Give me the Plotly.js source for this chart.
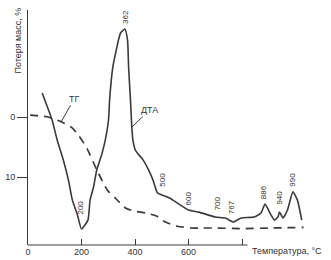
<!DOCTYPE html>
<html>
<head>
<meta charset="utf-8">
<script src="https://cdn.plot.ly/plotly-3.0.1.min.js"></script>
<style>html,body{margin:0;padding:0;background:#fff;}#chart{width:331px;height:260px;}</style>
</head>
<body>
<div id="chart"></div>
<script>
// DTA curve (temperature, °C ; relative signal, arbitrary units)
const tempDTA = [53,90,109,132,151,166,185,200,224,232,245,257,277,289,301,305,317,330,338,346,362,372,376,383,388,392,401,430,451,467,484,500,529,600,639,700,738,767,797,845,871,886,908,921,934,940,953,970,990,1007,1023];
const dta = [64.7,53.2,44.7,36.2,27.7,19.1,12.8,6.8,10.6,19.1,24.7,31.9,39.1,44.7,53.2,61.7,75.7,83.0,87.2,90.2,91.9,87.2,75.7,61.7,50.2,44.7,40.4,36.2,31.9,27.7,22.1,21.3,20.0,14.9,14.0,11.9,11.5,9.8,11.5,11.9,13.6,17.4,12.8,10.6,11.9,14.0,11.5,14.9,22.6,19.1,10.6];

// TG curve (temperature, °C ; mass loss, %)
const tempTG = [8,38,75,124,162,188,220,257,297,326,366,398,441,480,513,558,611,639,700,800,900,1030];
const tg = [-0.3,-0.2,0,0.8,1.7,3.0,5.2,8.8,12.2,13.5,15.2,15.7,16.0,16.5,17.5,18.2,18.5,18.5,18.5,18.6,18.5,18.4];

// labelled DTA effects (°C)
const peakTemps = [200,362,500,600,700,767,886,940,990];
const peakShiftY = [21,12,15,11,14,15,12,14,12];
const peakShiftX = [-1,0,1,0,2,-1,-2,0,0];

// axis ticks
const xTickVals = [0,200,400,600,800];
const xTickText = ['0','200','400','600',''];
const yTickVals = [0,10];
const yTickText = ['0','10'];

const ink = '#3a3a3a';
const txt = '#333333';
const fam = 'Liberation Sans, Arial, sans-serif';

function dtaAt(t){ return dta[tempDTA.indexOf(t)]; }
function tgAt(t){ return tg[tempTG.indexOf(t)]; }

const traces = [
  {x: tempTG, y: tg, type: 'scatter', mode: 'lines', yaxis: 'y',
   line: {color: ink, width: 1.7, dash: '8px,6px', shape: 'spline', smoothing: 0.6},
   hoverinfo: 'skip'},
  {x: tempDTA, y: dta, type: 'scatter', mode: 'lines', yaxis: 'y2',
   line: {color: ink, width: 1.6, shape: 'spline', smoothing: 0.5},
   hoverinfo: 'skip'}
];

const annotations = peakTemps.map((t, i) => ({
  x: t, y: dtaAt(t), xref: 'x', yref: 'y2', text: String(t), textangle: -90,
  showarrow: false, yshift: peakShiftY[i], xshift: peakShiftX[i],
  font: {family: fam, size: 8, color: txt}
}));

annotations.push({
  x: 124, y: tgAt(124), xref: 'x', yref: 'y', text: 'ТГ', showarrow: true,
  arrowhead: 0, arrowwidth: 1, arrowcolor: ink, standoff: 0, ax: 13, ay: -23,
  font: {family: fam, size: 9, color: txt}
});
annotations.push({
  x: 388, y: dtaAt(388), xref: 'x', yref: 'y2', text: 'ДТА', showarrow: true,
  arrowhead: 0, arrowwidth: 1, arrowcolor: ink, standoff: 0, ax: 18, ay: -17,
  font: {family: fam, size: 9, color: txt}
});
annotations.push({
  x: 0.918, y: -0.026, xref: 'paper', yref: 'paper', text: 'Температура, °C',
  showarrow: false, xanchor: 'center', yanchor: 'middle',
  font: {family: fam, size: 9, color: txt}
});
annotations.push({
  x: -0.034, y: 0.872, xref: 'paper', yref: 'paper', text: 'Потеря масс, %',
  showarrow: false, textangle: -90, xanchor: 'center', yanchor: 'middle',
  font: {family: fam, size: 9, color: txt}
});

const layout = {
  width: 331, height: 260,
  margin: {l: 28, r: 21, t: 10, b: 15, pad: 0},
  paper_bgcolor: '#ffffff', plot_bgcolor: '#ffffff',
  showlegend: false,
  xaxis: {range: [0, 1054], showgrid: false, zeroline: false, showline: false,
    tickmode: 'array', tickvals: xTickVals, ticktext: xTickText,
    ticks: 'inside', ticklen: 6, tickwidth: 1, tickcolor: ink,
    tickfont: {family: fam, size: 9, color: txt}},
  yaxis: {range: [21.33, -17.83], showgrid: false, zeroline: false,
    showline: true, linecolor: ink, linewidth: 1,
    tickmode: 'array', tickvals: yTickVals, ticktext: yTickText,
    ticks: 'outside', ticklen: 10, tickwidth: 1, tickcolor: ink,
    tickfont: {family: fam, size: 9, color: txt}},
  yaxis2: {range: [0, 100], overlaying: 'y', visible: false},
  shapes: [
    {type: 'line', xref: 'x', yref: 'paper', x0: 0, x1: 820, y0: 0, y1: 0,
     line: {color: ink, width: 1}}
  ],
  annotations: annotations
};

Plotly.newPlot('chart', traces, layout, {staticPlot: true, displayModeBar: false});
</script>
</body>
</html>
